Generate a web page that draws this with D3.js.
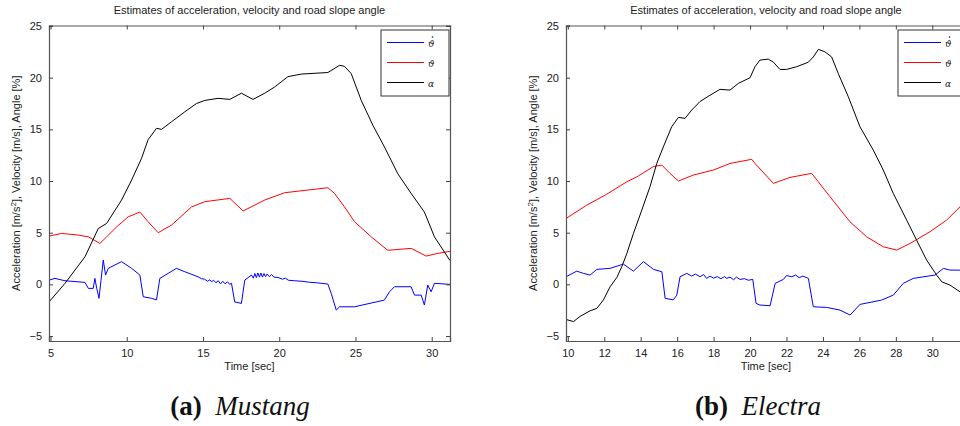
<!DOCTYPE html>
<html>
<head>
<meta charset="utf-8">
<script src="https://cdn.jsdelivr.net/npm/d3@7"></script>
<style>
  html, body { margin: 0; padding: 0; background: #fff; }
  svg { display: block; }
</style>
</head>
<body>
<svg id="chart" width="960" height="426"></svg>
<script>
// ---------- DATA ----------
const chartTitle = "Estimates of acceleration, velocity and road slope angle";
const xLabel = "Time [sec]";
const yTicks = [-5, 0, 5, 10, 15, 20, 25];
const mustangXTicks = [5, 10, 15, 20, 25, 30];
const electraXTicks = [10, 12, 14, 16, 18, 20, 22, 24, 26, 28, 30];
const legendLabels = ["\u03D1", "\u03D1", "\u03B1"];
const legendDots = [true, false, false];
const captions = [["(a)", "Mustang"], ["(b)", "Electra"]];

// Mustang: [time, value]
const mustangAccel = [
  [4.9,0.41],[5.29,0.58],[5.95,0.35],[7.26,0.19],[7.48,-0.39],[7.80,-0.39],[7.91,0.58],[8.03,-0.39],
  [8.18,-1.35],[8.31,0.4],[8.46,2.35],[8.61,0.9],[8.79,1.55],[9.66,2.2],[10.32,1.55],[10.86,0.9],
  [11.08,-1.2],[11.63,-1.35],[11.95,-1.5],[12.17,0.58],[12.71,1.06],[13.26,1.55],[13.81,1.22],
  [14.2,1.0],[14.68,0.73],[14.9,0.55],[15.1,0.5],[15.3,0.3],[15.45,0.45],[15.56,0.25],[15.7,0.4],
  [15.85,0.15],[16.0,0.35],[16.15,0.05],[16.3,0.3],[16.45,0.05],[16.6,0.25],[16.75,0.0],[16.87,0.1],
  [17.08,-1.7],[17.52,-1.84],[17.74,0.41],[18.18,0.9],[18.3,0.6],[18.4,1.05],[18.5,0.65],[18.6,1.1],
  [18.7,0.7],[18.8,1.1],[18.9,0.7],[19.0,1.05],[19.1,0.75],[19.2,1.0],[19.35,0.75],[19.5,0.95],
  [19.65,0.7],[19.92,0.67],[20.2,0.5],[20.4,0.6],[20.6,0.4],[21.01,0.35],[21.5,0.3],[22.0,0.2],
  [22.5,0.15],[23.19,0.03],[23.41,-0.87],[23.74,-2.49],[23.96,-2.17],[24.94,-2.17],[26.90,-1.52],
  [27.23,-0.72],[27.56,-0.23],[28.65,-0.23],[28.87,-1.04],[29.31,-1.04],[29.52,-2.0],[29.74,-0.07],
  [29.96,-0.72],[30.18,0.1],[31.2,0.0]
];
const mustangVel = [
  [4.9,4.67],[5.73,4.93],[6.82,4.77],[7.48,4.6],[8.24,3.96],[8.68,4.6],[9.34,5.57],[10.10,6.54],
  [10.86,7.0],[11.40,6.06],[12.06,5.0],[12.94,5.74],[14.25,7.5],[15.12,8.0],[16.76,8.32],[17.63,7.1],
  [19.05,8.16],[20.36,8.87],[23.19,9.35],[23.63,8.8],[24.28,7.5],[24.94,6.06],[26.03,4.6],[27.12,3.3],
  [28.65,3.48],[29.64,2.74],[30.40,3.0],[31.2,3.2]
];
const mustangAngle = [
  [4.9,-1.7],[5.95,0.1],[7.26,2.67],[8.13,5.4],[8.68,5.9],[9.66,8.16],[10.32,10.1],[10.97,12.2],
  [11.40,14.0],[11.95,15.1],[12.28,15.0],[12.94,15.74],[13.81,16.7],[14.57,17.5],[15.12,17.8],
  [15.99,18.0],[16.76,17.9],[17.52,18.5],[18.28,17.9],[19.05,18.5],[19.70,19.1],[20.57,20.1],
  [21.45,20.35],[23.19,20.5],[23.96,21.2],[24.28,21.1],[24.72,20.4],[25.38,17.8],[26.14,15.4],
  [26.90,13.3],[27.78,10.7],[28.65,8.8],[29.52,7.0],[30.18,4.6],[31.2,2.3]
];

// Electra: [time, value]
const electraAccel = [
  [9.91,0.74],[10.49,1.28],[10.86,1.06],[11.22,0.9],[11.59,1.45],[12.32,1.55],[13.05,1.96],[13.60,1.28],
  [14.15,2.2],[14.70,1.45],[15.16,1.22],[15.34,-1.35],[15.79,-1.5],[15.98,-1.04],[16.16,0.74],[16.53,1.06],
  [16.8,0.8],[17.0,1.0],[17.26,0.74],[17.45,0.95],[17.62,0.58],[17.8,0.8],[18.0,0.6],[18.2,0.75],
  [18.4,0.55],[18.6,0.75],[18.72,0.58],[18.9,0.7],[19.1,0.45],[19.25,0.7],[19.45,0.48],[19.7,0.55],
  [19.9,0.4],[20.15,0.48],[20.33,-1.84],[20.54,-2.0],[21.10,-2.07],[21.38,0.1],[21.83,0.48],[22.0,0.85],
  [22.29,0.74],[22.5,0.9],[22.7,0.65],[22.9,0.8],[23.20,0.58],[23.47,-2.17],[24.21,-2.23],[24.94,-2.49],
  [25.49,-2.97],[26.03,-1.94],[27.22,-1.52],[27.86,-1.04],[28.41,0.1],[28.96,0.58],[30.15,0.9],
  [30.61,1.55],[30.97,1.38],[31.52,1.38],[31.85,1.4]
];
const electraVel = [
  [9.91,6.38],[11.04,7.67],[12.05,8.64],[13.24,9.93],[13.79,10.4],[14.70,11.4],[15.16,11.54],[15.61,10.74],
  [16.07,10.0],[16.89,10.58],[17.99,11.06],[18.90,11.7],[20.09,12.1],[20.27,11.7],[21.28,9.77],[22.19,10.35],
  [23.38,10.74],[24.39,8.48],[25.48,6.06],[26.40,4.6],[27.31,3.64],[28.05,3.32],[28.78,3.96],[29.88,5.1],
  [30.79,6.22],[31.52,7.5],[31.85,8.1]
];
const electraAngle = [
  [9.91,-3.4],[10.31,-3.6],[10.67,-3.1],[11.22,-2.56],[11.59,-2.33],[11.95,-1.52],[12.32,-0.23],[12.69,0.67],
  [12.96,1.7],[13.24,3.0],[13.60,4.93],[14.06,7.19],[14.51,9.45],[14.88,11.7],[15.24,13.3],[15.70,15.25],
  [16.07,16.16],[16.43,16.06],[16.80,16.87],[17.26,17.7],[17.80,18.3],[18.35,18.87],[18.90,18.8],
  [19.36,19.45],[20.00,20.0],[20.27,21.06],[20.54,21.7],[21.00,21.8],[21.28,21.5],[21.64,20.8],
  [22.01,20.8],[22.56,21.06],[23.20,21.5],[23.47,22.0],[23.75,22.74],[24.11,22.5],[24.48,22.0],
  [24.84,20.4],[25.39,18.16],[26.03,15.25],[26.76,13.0],[27.31,11.06],[27.86,8.8],[28.60,6.2],
  [29.14,4.28],[29.69,2.35],[30.24,0.9],[30.52,0.25],[30.97,-0.07],[31.52,-0.72],[31.85,-1.0]
];

// ---------- DRAWING ----------
const svg = d3.select("#chart");
const colors = ["#0000ff", "#ff0000", "#000000"];
const font = "'Liberation Sans', Arial, Helvetica, sans-serif";

const panels = [
  { x0: 49, x1: 450, domain: [4.9, 31.2], ticks: mustangXTicks,
    series: [mustangAccel, mustangVel, mustangAngle], legendX: 381, caption: captions[0], capX: 240, clip: "clipA" },
  { x0: 566, x1: 966, domain: [9.9, 31.85], ticks: electraXTicks,
    series: [electraAccel, electraVel, electraAngle], legendX: 898, caption: captions[1], capX: 758, clip: "clipB" }
];
const yTop = 25.5, yBot = 341;

panels.forEach(p => {
  const x = d3.scaleLinear().domain(p.domain).range([p.x0, p.x1]);
  const y = d3.scaleLinear().domain([-5.48, 25.05]).range([yBot, yTop]);
  const g = svg.append("g");

  g.append("clipPath").attr("id", p.clip).append("rect")
    .attr("x", p.x0).attr("y", yTop).attr("width", p.x1 - p.x0).attr("height", yBot - yTop);

  // Series
  const line = d3.line().x(d => x(d[0])).y(d => y(d[1]));
  p.series.forEach((s, i) => {
    g.append("path").datum(s).attr("d", line).attr("fill", "none")
      .attr("stroke", colors[i]).attr("stroke-width", 1).attr("clip-path", `url(#${p.clip})`);
  });

  // Axes (ticks inward)
  const bottom = g.append("g").attr("transform", `translate(0,${yBot})`)
    .call(d3.axisBottom(x).tickValues(p.ticks).tickSize(-4).tickPadding(8).tickFormat(d3.format("d")));
  const top = g.append("g").attr("transform", `translate(0,${yTop})`)
    .call(d3.axisTop(x).tickValues(p.ticks).tickSize(-4).tickFormat(""));
  const left = g.append("g").attr("transform", `translate(${p.x0},0)`)
    .call(d3.axisLeft(y).tickValues(yTicks).tickSize(-4).tickPadding(7).tickFormat(d3.format("d")));
  const right = g.append("g").attr("transform", `translate(${p.x1},0)`)
    .call(d3.axisRight(y).tickValues(yTicks).tickSize(-4).tickFormat(""));
  [bottom, top, left, right].forEach(a => {
    a.select(".domain").attr("stroke", "#555").attr("stroke-width", 1.2);
    a.selectAll(".tick line").attr("stroke", "#444");
    a.selectAll("text").attr("font-family", font).attr("font-size", 11).attr("fill", "#222");
  });

  // Title
  g.append("text").attr("x", (p.x0 + p.x1) / 2).attr("y", 14).attr("text-anchor", "middle")
    .attr("font-family", font).attr("font-size", 11).attr("fill", "#222").text(chartTitle);

  // X label
  g.append("text").attr("x", (p.x0 + p.x1) / 2).attr("y", 370).attr("text-anchor", "middle")
    .attr("font-family", font).attr("font-size", 11).attr("fill", "#222").text(xLabel);

  // Y label
  const yl = g.append("text")
    .attr("transform", `translate(${p.x0 - 29},${(yTop + yBot) / 2}) rotate(-90)`)
    .attr("text-anchor", "middle").attr("font-family", font).attr("font-size", 11).attr("fill", "#222");
  yl.append("tspan").text("Acceleration [m/s");
  yl.append("tspan").attr("dy", -4).attr("font-size", 8).text("2");
  yl.append("tspan").attr("dy", 4).text("], Velocity [m/s], Angle [%]");

  // Legend
  const lg = g.append("g");
  lg.append("rect").attr("x", p.legendX).attr("y", 30).attr("width", 68).attr("height", 66)
    .attr("fill", "#fff").attr("stroke", "#333").attr("stroke-width", 1);
  legendLabels.forEach((lab, i) => {
    const ly = 42.5 + i * 20;
    lg.append("line").attr("x1", p.legendX + 6).attr("x2", p.legendX + 43).attr("y1", ly).attr("y2", ly)
      .attr("stroke", colors[i]).attr("stroke-width", 1);
    lg.append("text").attr("x", p.legendX + 47).attr("y", ly + 4)
      .attr("font-family", "'DejaVu Serif', serif").attr("font-style", "italic")
      .attr("font-size", 9).attr("fill", "#222").text(lab);
    if (legendDots[i]) {
      lg.append("circle").attr("cx", p.legendX + 51.5).attr("cy", ly - 5.5).attr("r", 0.8).attr("fill", "#222");
    }
  });

  // Caption
  const cap = svg.append("text").attr("x", p.capX).attr("y", 415).attr("text-anchor", "middle")
    .attr("font-family", "'Liberation Serif', 'DejaVu Serif', serif").attr("font-size", 27).attr("fill", "#111");
  cap.append("tspan").attr("font-weight", "bold").text(p.caption[0] + "\u2002");
  cap.append("tspan").attr("font-style", "italic").text(p.caption[1]);
});
</script>
</body>
</html>
